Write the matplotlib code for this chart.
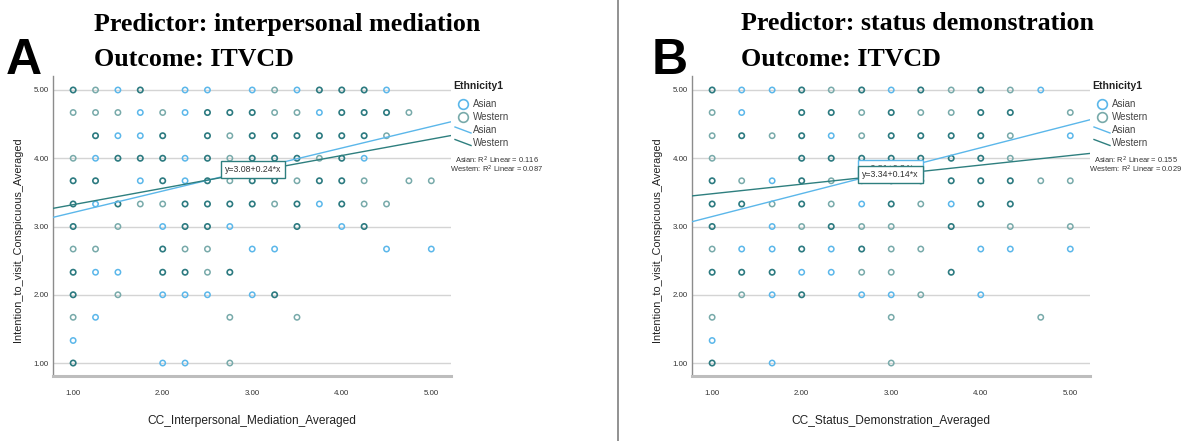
import matplotlib
matplotlib.use('Agg')
import matplotlib.pyplot as plt
from matplotlib.lines import Line2D
import numpy as np

plt.rcParams['font.family'] = ['Liberation Sans', 'DejaVu Sans']

W, H = 1186., 441.

# y levels (shared by both panels)
rows_y = [5.00, 4.67, 4.33, 4.00, 3.67, 3.33, 3.00, 2.67, 2.33, 2.00, 1.67, 1.33, 1.00]

# panel A: x levels and which group sits in each cell
# A = Asian only, W = Western only, B = both, . = empty
cols_a = [1.00, 1.25, 1.50, 1.75, 2.00, 2.25, 2.50, 2.75, 3.00,
          3.25, 3.50, 3.75, 4.00, 4.25, 4.50, 4.75, 5.00]
cells_a = ["BWAB.AA.AWABBBA..",
           "WWWAWABBBWWABBBW.",
           ".BAAB.BWBBBBBBW..",
           "WABBBABWBBBWBA...",
           "BB.ABABWBBWBBW.WW",
           "BABWWBBBBWBABWW..",
           "B.W.ABBA..B.AB...",
           "WW..BWW.AA....A.A",
           "BAA.BBWB.........",
           "B.W.AAA.AB.......",
           "WA.....W..W......",
           "A................",
           "B...AA.W........."]

# panel B
cols_b = [1.00, 1.33, 1.67, 2.00, 2.33, 2.67, 3.00,
          3.33, 3.67, 4.00, 4.33, 4.67, 5.00]
cells_b = ["BAABWBABWBWA.",
           "WA.BBWBWWBB.W",
           "WBWBAWBBBBW.A",
           "W..BBBBBBBW..",
           "BWABWWBBBBBWW",
           "BBWBWABWABB..",
           "B.AWBWW.B.W.W",
           "WAABABWW.AA.A",
           "BBBAAWW.B....",
           ".WAB.AAW.A...",
           "W.....W....W.",
           "A............",
           "B.A...W......"]

# fit lines (intercept, slope) and R^2
fit_a = {'Asian': (2.89, 0.315), 'Western': (3.08, 0.24)}
fit_b = {'Asian': (2.81, 0.336), 'Western': (3.34, 0.14)}
r2_a = {'Asian': 0.116, 'Western': 0.087}
r2_b = {'Asian': 0.155, 'Western': 0.029}

titles = [('A', 'Predictor: interpersonal mediation', 'CC_Interpersonal_Mediation_Averaged'),
          ('B', 'Predictor: status demonstration', 'CC_Status_Demonstration_Averaged')]

C_ASIAN = '#5BB7EA'
C_WEST = '#78AAAA'
C_BOTH = '#2C7A80'
C_WLINE = '#2E7F7F'


def split_cells(cols, cells):
    pts = {'A': ([], []), 'W': ([], []), 'B': ([], [])}
    for yv, line in zip(rows_y, cells):
        for xv, c in zip(cols, line):
            if c in pts:
                pts[c][0].append(xv)
                pts[c][1].append(yv)
    return pts


def fx(px):
    return px / W


def fy(py):
    return 1 - py / H


fig = plt.figure(figsize=(W / 100, H / 100), dpi=100)

# separator between the two panels
fig.add_artist(Line2D([fx(618), fx(618)], [0, 1], color='#7f7f7f', lw=1.2,
                      transform=fig.transFigure))

panels = [(53, cols_a, cells_a, fit_a, r2_a, (3.01, 3.83)),
          (692, cols_b, cells_b, fit_b, r2_b, (2.99, 3.76))]

for i, (left, cols, cells, fit, r2, boxpos) in enumerate(panels):
    letter, title, xlab = titles[i]
    ax = fig.add_axes([fx(left), fy(376), 398 / W, 300 / H])
    ax.set_xlim(0.775, 5.22)
    ax.set_ylim(0.81, 5.205)

    pts = split_cells(cols, cells)
    ax.scatter(pts['A'][0], pts['A'][1], s=15, facecolors='none',
               edgecolors=C_ASIAN, linewidths=1.1, zorder=3)
    ax.scatter(pts['W'][0], pts['W'][1], s=15, facecolors='none',
               edgecolors=C_WEST, linewidths=1.1, zorder=3)
    ax.scatter(pts['B'][0], pts['B'][1], s=15, facecolors='none',
               edgecolors=C_BOTH, linewidths=1.2, zorder=3)

    xx = np.array([0.775, 5.22])
    b0, b1 = fit['Asian']
    ax.plot(xx, b0 + b1 * xx, color=C_ASIAN, lw=1.0, zorder=4)
    b0, b1 = fit['Western']
    ax.plot(xx, b0 + b1 * xx, color=C_WLINE, lw=1.0, zorder=4)

    # equation boxes (in B the Asian one sits mostly behind the Western one)
    if i == 1:
        b0, b1 = fit['Asian']
        ax.text(boxpos[0], boxpos[1] + 0.09, 'y=%.2f+%.2f*x' % (b0, b1),
                fontsize=6.3, color='#444444', ha='center', va='center', zorder=5,
                bbox=dict(boxstyle='square,pad=0.45', fc='white', ec=C_ASIAN, lw=1))
    b0, b1 = fit['Western']
    ax.text(boxpos[0], boxpos[1], 'y=%.2f+%.2f*x' % (b0, b1),
            fontsize=6.3, color='#333333', ha='center', va='center', zorder=6,
            bbox=dict(boxstyle='square,pad=0.45', fc='white', ec=C_WLINE, lw=1))

    # axes look
    ax.set_xticks([1, 2, 3, 4, 5])
    ax.set_xticklabels(['%.2f' % v for v in [1, 2, 3, 4, 5]])
    ax.set_yticks([1, 2, 3, 4, 5])
    ax.set_yticklabels(['%.2f' % v for v in [1, 2, 3, 4, 5]])
    ax.tick_params(length=0, labelsize=5.7, labelcolor='#333333')
    ax.tick_params(axis='x', pad=10)
    ax.tick_params(axis='y', pad=3)
    ax.yaxis.grid(True, color='#d4d4d4', lw=1)
    ax.set_axisbelow(True)
    for s in ['top', 'right']:
        ax.spines[s].set_visible(False)
    ax.spines['left'].set_color('#8c8c8c')
    ax.spines['left'].set_linewidth(1)
    ax.spines['bottom'].set_color('#bdbdbd')
    ax.spines['bottom'].set_linewidth(2.2)

    ax.set_ylabel('Intention_to_visit_Conspicuous_Averaged', fontsize=7.8, color='#222222')
    ax.yaxis.set_label_coords(-0.075, 0.455)
    ax.set_xlabel(xlab, fontsize=8.6, color='#222222')
    ax.xaxis.set_label_coords(0.5, -0.13)

    # titles and panel letter
    tx = 94 if i == 0 else 741
    fig.text(fx(tx), fy(24), title, family='Liberation Serif', weight='bold',
             fontsize=18.7, va='center', ha='left')
    fig.text(fx(tx), fy(60), 'Outcome: ITVCD', family='Liberation Serif',
             weight='bold', fontsize=18.7, va='center', ha='left')
    lx = 24 if i == 0 else 670
    fig.text(fx(lx), fy(61), letter, weight='bold', fontsize=36,
             ha='center', va='center')

    # legend drawn by hand, SPSS style
    gx = left + 399
    fig.text(fx(gx + 1), fy(86), 'Ethnicity1', fontsize=7.5, weight='bold',
             color='#222222', va='center', ha='left')
    for k, (name, col) in enumerate([('Asian', C_ASIAN), ('Western', C_WEST)]):
        yy = 104 + 13 * k
        fig.add_artist(Line2D([fx(gx + 11)], [fy(yy)], marker='o', ms=7,
                              mfc='none', mec=col, mew=1.2,
                              transform=fig.transFigure))
        fig.text(fx(gx + 21), fy(yy), name, fontsize=7, color='#444444',
                 va='center', ha='left')
    for k, (name, col) in enumerate([('Asian', C_ASIAN), ('Western', C_WLINE)]):
        yy = 130 + 12.5 * k
        fig.add_artist(Line2D([fx(gx + 3), fx(gx + 19)], [fy(yy - 3), fy(yy + 3)],
                              color=col, lw=1, transform=fig.transFigure))
        fig.text(fx(gx + 21), fy(yy), name, fontsize=7, color='#444444',
                 va='center', ha='left')
    fig.text(fx(gx + 45), fy(160), 'Asian: R$^2$ Linear = %.3f' % r2['Asian'],
             fontsize=5.4, color='#333333', ha='center', va='center')
    fig.text(fx(gx + 45), fy(169.5), 'Western: R$^2$ Linear = %.3f' % r2['Western'],
             fontsize=5.4, color='#333333', ha='center', va='center')

fig.savefig('out.png', dpi=100)
